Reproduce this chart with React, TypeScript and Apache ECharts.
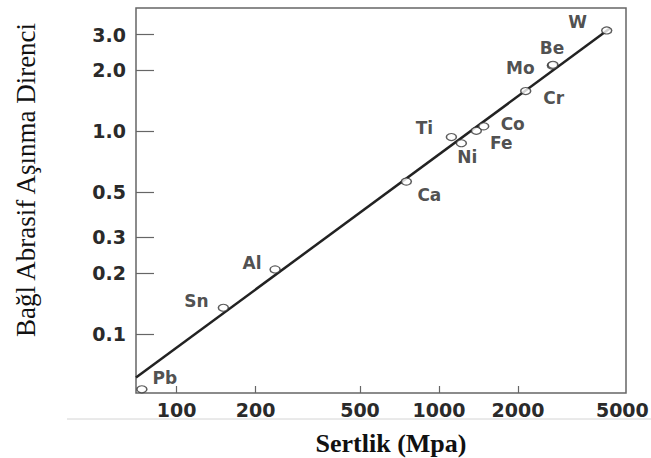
import React, { useEffect, useRef } from "react";
import * as echarts from "echarts";

// Data (log-log plot)
const elements = ["Pb", "Sn", "Al", "Ca", "Ti", "Ni", "Fe", "Co", "Cr", "Mo", "Be", "W"];
const hardnessMpa = [73.7, 150.7, 237.3, 751, 1115, 1217, 1388, 1481, 2141, 2705, 2720, 4359];
const relWearResistance = [0.0534, 0.1348, 0.2084, 0.565, 0.937, 0.873, 1.006, 1.058, 1.58, 2.11, 2.13, 3.145];

// Fitted line end points
const fitX = [70, 4490];
const fitY = [0.061, 3.22];

// Tick values
const xTicks = [100, 200, 500, 1000, 2000, 5000];
const yTicks = [0.1, 0.2, 0.3, 0.5, 1.0, 2.0, 3.0];

// Label offsets (layout only)
const labelOffsets: Record<string, [number, number]> = {
  Pb: [23, -11],
  Sn: [-27, -7],
  Al: [-23, -6],
  Ca: [23, 13],
  Ti: [-27, -9],
  Ni: [6, 14],
  Fe: [25, 12],
  Co: [29, -2],
  Cr: [28, 7],
  Mo: [-32, 2],
  Be: [-1, -17],
  W: [-29, -8],
};

export default function App() {
  const ref = useRef<HTMLDivElement>(null);
  useEffect(() => {
    if (!ref.current) return;
    const chart = echarts.init(ref.current, null, { renderer: "svg" });
    const tickFont = {
      fontFamily: "DejaVu Sans",
      fontWeight: "bold" as const,
      fontSize: 19,
      color: "#2a2a2a",
    };
    chart.setOption({
      animation: false,
      backgroundColor: "#ffffff",
      grid: {
        left: 136,
        top: 8,
        right: 25,
        bottom: 65,
        containLabel: false,
        outerBoundsMode: "none",
        show: true,
        borderColor: "#666",
        borderWidth: 1.5,
      },
      xAxis: {
        type: "log",
        min: 70,
        max: 5163,
        axisLine: { show: false },
        splitLine: { show: false },
        minorTick: { show: false },
        axisTick: {
          show: true,
          inside: true,
          length: 7,
          lineStyle: { color: "#666", width: 1.2 },
          customValues: xTicks.slice(0, 5),
        },
        axisLabel: {
          ...tickFont,
          margin: 7,
          customValues: xTicks,
          formatter: (v: number) => String(Math.round(v)),
        },
      },
      yAxis: {
        type: "log",
        min: 0.0512,
        max: 4.058,
        axisLine: { show: false },
        splitLine: { show: false },
        minorTick: { show: false },
        axisTick: {
          show: true,
          inside: true,
          length: 18,
          lineStyle: { color: "#666", width: 1.2 },
          customValues: yTicks,
        },
        axisLabel: {
          ...tickFont,
          margin: 10,
          customValues: yTicks,
          formatter: (v: number) => v.toFixed(1),
        },
      },
      graphic: [
        {
          type: "line",
          shape: { x1: 67, y1: 419, x2: 651, y2: 419 },
          style: { stroke: "#d4d4d4", lineWidth: 1 },
          silent: true,
        },
        {
          type: "text",
          x: 26,
          y: 180,
          rotation: Math.PI / 2,
          style: {
            text: "Bağl Abrasif Aşınma Direnci",
            font: '27px "Liberation Serif"',
            fill: "#111",
            align: "center",
            verticalAlign: "middle",
          },
        },
        {
          type: "text",
          x: 391,
          y: 443,
          style: {
            text: "Sertlik (Mpa)",
            font: 'bold 26px "Liberation Serif"',
            fill: "#111",
            align: "center",
            verticalAlign: "middle",
          },
        },
      ],
      series: [
        {
          type: "line",
          data: fitX.map((x, i) => [x, fitY[i]]),
          showSymbol: false,
          symbol: "none",
          lineStyle: { color: "#222", width: 2.5 },
          z: 2,
        },
        {
          type: "scatter",
          symbol: "circle",
          symbolSize: [10, 7],
          itemStyle: { color: "#ffffff", borderColor: "#333", borderWidth: 1.3 },
          z: 3,
          data: elements.map((name, i) => ({
            name,
            value: [hardnessMpa[i], relWearResistance[i]],
            label: { offset: labelOffsets[name] },
          })),
          label: {
            show: true,
            position: "inside",
            formatter: (p: any) => p.name,
            fontFamily: "DejaVu Sans",
            fontWeight: "bold",
            fontSize: 17,
            color: "#222",
            align: "center",
            verticalAlign: "middle",
          },
        },
      ],
    });
    return () => chart.dispose();
  }, []);
  return (
    <div
      ref={ref}
      style={{ position: "fixed", left: 0, top: 0, width: 651, height: 458, background: "#fff" }}
    />
  );
}
